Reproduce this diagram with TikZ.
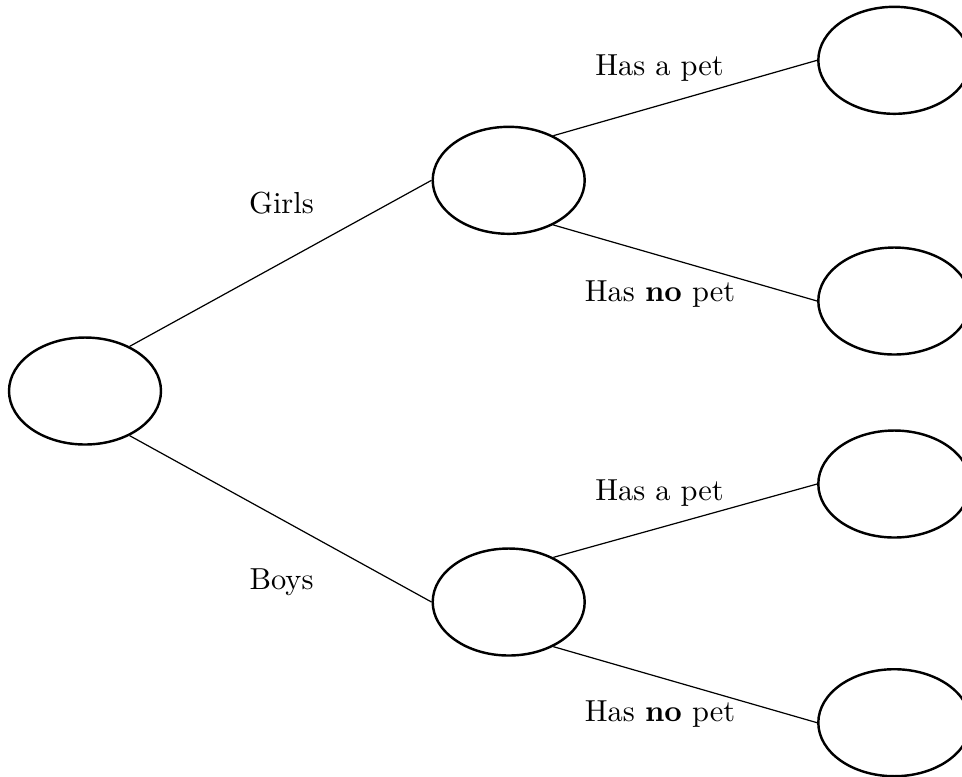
\documentclass[tikz,border=0pt]{standalone}
\usetikzlibrary{shapes.geometric}
\begin{document}
\begin{tikzpicture}[x=0.329pt,y=-0.329pt,
  ell/.style={draw, ellipse, line width=0.8pt, minimum width=50pt, minimum height=35.2pt, inner sep=0pt},
  conn/.style={line width=0.4pt},
  lab/.style={anchor=base, inner sep=0pt}]
\useasboundingbox (0,0) rectangle (962,776);
\node[ell] (root) at (85,391) {};
\node[ell] (g) at (508.7,180.3) {};
\node[ell] (b) at (508.7,602) {};
\node[ell] (gp) at (894.3,60.3) {};
\node[ell] (gn) at (894.3,301) {};
\node[ell] (bp) at (894.3,484) {};
\node[ell] (bn) at (894.3,722.7) {};
\draw[conn] (root.45) -- (g.west);
\draw[conn] (root.-45) -- (b.west);
\draw[conn] (g.45) -- (gp.west);
\draw[conn] (g.-45) -- (gn.west);
\draw[conn] (b.45) -- (bp.west);
\draw[conn] (b.-45) -- (bn.west);
\node[lab] (lg) at (281.5,213) {Girls};
\node[lab] (lb) at (281.5,589) {Boys};
\node[lab] (lgp) at (659.5,75) {Has a pet};
\node[lab] (lgn) at (660,301.7) {Has \textbf{no} pet};
\node[lab] (lbp) at (659.5,500) {Has a pet};
\node[lab] (lbn) at (660,721.7) {Has \textbf{no} pet};
\end{tikzpicture}
\end{document}
